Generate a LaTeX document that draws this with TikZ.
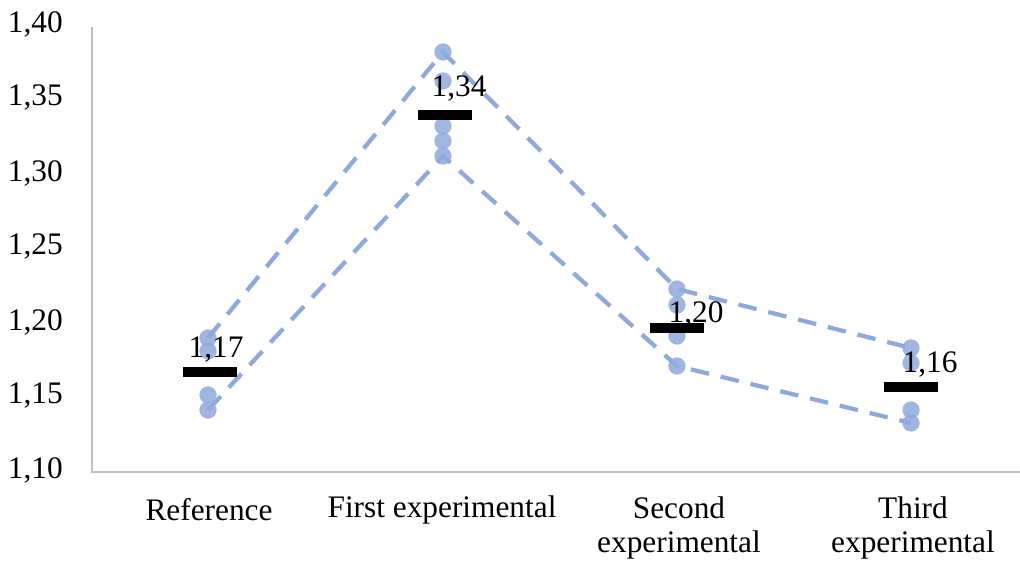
\documentclass[tikz,border=0pt]{standalone}
\usepackage{fontspec}
\setmainfont{Liberation Serif}
\begin{document}
\begin{tikzpicture}[x=0.75pt,y=-0.75pt,
  axisline/.style={draw=black!25,line width=1.5pt},
  trend/.style={draw=ptcol,line width=3.2pt,dash pattern=on 14pt off 9pt},
  pt/.style={circle,fill=ptcol,fill opacity=0.85,inner sep=0pt,minimum size=13pt},
  meanbar/.style={fill=black,inner sep=0pt,minimum width=40.5pt,minimum height=7.5pt},
  ticklbl/.style={anchor=east,inner sep=0pt,font=\fontsize{23.5}{27}\selectfont},
  catlbl/.style={align=center,inner sep=0pt,font=\fontsize{23.5}{25}\selectfont},
  vallbl/.style={inner sep=0pt,font=\fontsize{23.5}{27}\selectfont}]
\definecolor{ptcol}{HTML}{8EA9DB}
\useasboundingbox (0,0) rectangle (1020,565);
% axes
\coordinate (o) at (92,472);
\coordinate (ytop) at (92,27);
\coordinate (xend) at (1020,472);
\draw[axisline] (ytop) -- (o) -- (xend);
% tick labels
\node[ticklbl] (t40) at (63,24) {1,40};
\node[ticklbl] (t35) at (63,98) {1,35};
\node[ticklbl] (t30) at (63,173) {1,30};
\node[ticklbl] (t25) at (63,247) {1,25};
\node[ticklbl] (t20) at (63,322) {1,20};
\node[ticklbl] (t15) at (63,396) {1,15};
\node[ticklbl] (t10) at (63,470) {1,10};
% category labels
\node[catlbl] (cref) at (209,510) {Reference};
\node[catlbl] (cfirst) at (442,510) {First experimental};
\node[catlbl] (csecond) at (679,528) {Second\\experimental};
\node[catlbl] (cthird) at (913,528) {Third\\experimental};
% dots
\node[pt] (r1) at (208,338) {};
\node[pt] (r2) at (208,351) {};
\node[pt] (r3) at (208,395) {};
\node[pt] (r4) at (208,410) {};
\node[pt] (f1) at (443,52) {};
\node[pt] (f2) at (443,81) {};
\node[pt] (f3) at (443,126) {};
\node[pt] (f4) at (443,141) {};
\node[pt] (f5) at (443,156) {};
\node[pt] (s1) at (677,289) {};
\node[pt] (s2) at (677,305) {};
\node[pt] (s3) at (677,336) {};
\node[pt] (s4) at (677,366) {};
\node[pt] (h1) at (911,348) {};
\node[pt] (h2) at (911,363) {};
\node[pt] (h3) at (911,410) {};
\node[pt] (h4) at (911,423) {};
% trend lines
\draw[trend] (r1.center) -- (f1.center) -- (s1.center) -- (h1.center);
\draw[trend] (r4.center) -- (f5.center) -- (s4.center) -- (h4.center);
% value labels
\node[vallbl] (v1) at (216,350) {1,17};
\node[vallbl] (v2) at (459,89) {1,34};
\node[vallbl] (v3) at (696,314) {1,20};
\node[vallbl] (v4) at (930,365) {1,16};
% mean bars
\node[meanbar] (m1) at (210,372) {};
\node[meanbar] (m2) at (445,115) {};
\node[meanbar] (m3) at (677,328) {};
\node[meanbar] (m4) at (911,387) {};
\end{tikzpicture}
\end{document}
